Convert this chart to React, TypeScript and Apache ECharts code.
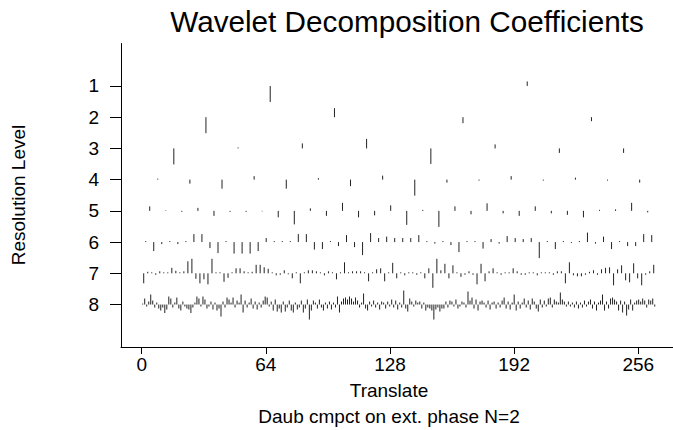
import React, { useEffect, useRef } from "react";
import * as echarts from "echarts";

// Resolution levels and tick labels
const LEVELS = [1, 2, 3, 4, 5, 6, 7, 8];
const X_TICKS = [0, 64, 128, 192, 256];
const TRANSLATE_SPAN = 265;
const COEF_SCALE = 1 / 31.2;

// Wavelet coefficients per level (global scaling)
const level1 = [-16, 4.5];
const level2 = [-16, 9, -6, -4];
const level3 = [-16, 1, 5, 9.5, -15.5, 4, -4.5, -4.5];
const level4 = [1, -4, -9, 3.5, -9, 1.5, -6.5, 4, -16, -3, -1, 3.5, -1, 2, -1, -3];
const level5 = [
  4.5, 0.5, -1, 3, -5, -1, -1, -0.5, -6.5, -13.5, 2.5, -5, 8, -6.5, -4.5, 5.5,
  -14, 1, -16, 4.5, -3.5, 7.5, -2.5, -5, 4.5, -2.5, -4, -6.5, 1, 1.5, 8, -1.5,
];
const level6 = [
  1, -9, -2, 1, -2, 1, 8, 8, -6, -11, 1, -11.5, -11.5, -11.5, -9, 4,
  1, 1, 1, 8, 8, -7.5, -7, 1, -4, 7, -5, -13, 9, 4, 5.5, 4,
  4, 4, 7, 1, -1.5, 1, -3, -10, 1, 1, -6.5, 3, -1.5, 6, 4, 3,
  4, -16, 1, -7, 1, -1, 1, 9.5, -1.5, 5.5, -7, 1, -4, -4, 8, 7,
];
const level7 = [
  -10, 1.5, 1, -1.5, 2, 1, 1, 5.5, 2.5, 1, 2, 12, 14.5, -5.5, -10, -6,
  -11, 14.5, 1, 1, -8.5, -4.5, 1, 5, 5, 2, 1, 1.5, 8.5, 8.5, 6, 4.5,
  1, -2, -1.5, 3, -1, -5, 1, -10, 1, 3, 3, 2, 1, -2, 2, 1,
  -6, 1, 11, 1, 2, 2, 2, 1, -8, 1, 4, 5, -8, 1, 10.5, -5,
  1, -2, 1, 1, -1.5, 1, -5, 5, -14.5, 14.5, 3, 9.5, -5, 8, 1, -3.5,
  -1.5, 2, -1.5, -11, 9.5, -8, 2, 5, 1, -1.5, 1, 1, 5, 2, -1.5, -1.5,
  1, 1, -2, 1, 1, 1, -1.5, 2, 2, -10, 11, -2, -3, -3, -1.5, 1.5,
  3, -1.5, 4, 5.5, 6, -12, 4, 8, -7, -9, 10, -5, -12, -1.5, 2, 8.5,
];
const level8 = [
  1, 6, -2, 3, 10, 4, -3, 2, -4, -6, -3, -8.5, -5, 8, 6, -3,
  2, 7, -4, -6, 3, -2, -4, -5, -8.5, -3, 2, 8, 6, -2, 8, 5,
  -4, -2, 3, -5, 2, -6, -4, -12, 3, -3, 7, 5, 2, 7, -3, 4,
  2, 10, -8, 4, -3, 2, 6, -4, 3, -5, 2, -3, 4, 8, 7, -2,
  3, -6, 5, -7, -4, -8, 3, -7, -3, 4, -6, -8, 2, -5, -3, 4,
  -8, -4, 5, -15, -6, 4, 2, -4, 5, -3, -6, 2, -4, 3, -5, 2,
  -3, 8, -8, 3, 6, 7, 5, 8, 6, 3, 7, 4, -3, 2, 11, -4,
  -6, 3, -2, 4, -3, 2, -5, 3, 2, -4, 3, -2, 5, -3, 4, -5,
  2, -3, 14, -4, -7, 6, 3, -2, 4, 2, 3, -4, 2, -6, -3, -4,
  -6, -15, -5, -3, -7, -4, -4, 3, -3, 4, 3, -2, 5, -4, -2, 3,
  2, -3, 13, 4, 7, -4, 5, -6, 3, 4, 2, -3, 4, -5, 2, 3,
  -4, 2, -3, 4, 7, -4, 3, -5, 2, 10, -6, 3, -4, 2, 6, -3,
  4, -5, 6, 3, -4, -7, 5, -3, 4, -2, 6, 7, -3, 5, 3, 2,
  12, 5, 3, -2, 3, -2, 2, -3, 3, -4, 2, -3, 4, -2, 3, 5,
  -4, 3, -6, 2, 4, 10, -6, 3, -4, 6, 7, 5, 3, -6, 4, -8,
  3, -11, -5, 5, -6, 2, 4, 5, 3, 6, 4, -3, 5, 4, 6, -2,
];
const COEFFS = [level1, level2, level3, level4, level5, level6, level7, level8];

const FONT = "'Liberation Sans', Arial, Helvetica, sans-serif";

export default function App() {
  const ref = useRef<HTMLDivElement>(null);

  useEffect(() => {
    if (!ref.current) return;
    const chart = echarts.init(ref.current, undefined, { renderer: "svg" });

    const data: number[][] = [];
    COEFFS.forEach((vals, li) => {
      const m = vals.length;
      vals.forEach((v, i) => {
        data.push([((i + 0.5) * TRANSLATE_SPAN) / m, LEVELS[li], v]);
      });
    });

    chart.setOption({
      animation: false,
      backgroundColor: "#fff",
      grid: { left: 121, right: 0, top: 43.5, bottom: 83, containLabel: false },
      xAxis: {
        type: "value",
        min: -10.67,
        max: 273.9,
        axisLine: { show: true, onZero: false, lineStyle: { color: "#000", width: 1 } },
        axisTick: { show: true, length: 7, customValues: X_TICKS, lineStyle: { color: "#000" } },
        axisLabel: {
          customValues: X_TICKS,
          color: "#000",
          fontSize: 19,
          fontFamily: FONT,
          margin: 8,
        },
        splitLine: { show: false },
      },
      yAxis: {
        type: "value",
        inverse: true,
        min: -0.36,
        max: 9.36,
        axisLine: { show: true, onZero: false, lineStyle: { color: "#000", width: 1 } },
        axisTick: { show: true, length: 11, customValues: LEVELS, lineStyle: { color: "#000" } },
        axisLabel: {
          customValues: LEVELS,
          color: "#000",
          fontSize: 19,
          fontFamily: FONT,
          margin: 22,
        },
        splitLine: { show: false },
      },
      series: [
        {
          type: "custom",
          data,
          renderItem: (params: any, api: any) => {
            const x = api.value(0);
            const lvl = api.value(1);
            const v = api.value(2);
            const p0 = api.coord([x, lvl]);
            const p1 = api.coord([x, lvl - v * COEF_SCALE]);
            return {
              type: "line",
              shape: { x1: p0[0], y1: p0[1], x2: p1[0], y2: p1[1] },
              style: { stroke: "#222", lineWidth: 1 },
            };
          },
        },
      ],
      graphic: [
        {
          type: "text",
          x: 407,
          y: 21,
          style: {
            text: "Wavelet Decomposition Coefficients",
            font: `29.7px ${FONT}`,
            fill: "#000",
            textAlign: "center",
            textVerticalAlign: "middle",
          },
        },
        {
          type: "text",
          x: 389,
          y: 390,
          style: {
            text: "Translate",
            font: `19px ${FONT}`,
            fill: "#000",
            textAlign: "center",
            textVerticalAlign: "middle",
          },
        },
        {
          type: "text",
          x: 389,
          y: 416,
          style: {
            text: "Daub cmpct on ext. phase N=2",
            font: `19px ${FONT}`,
            fill: "#000",
            textAlign: "center",
            textVerticalAlign: "middle",
          },
        },
        {
          type: "text",
          x: 18,
          y: 195,
          rotation: Math.PI / 2,
          style: {
            text: "Resolution Level",
            font: `19px ${FONT}`,
            fill: "#000",
            textAlign: "center",
            textVerticalAlign: "middle",
          },
        },
      ],
    });

    return () => chart.dispose();
  }, []);

  return (
    <div
      ref={ref}
      style={{ position: "fixed", left: 0, top: 0, width: 673, height: 430 }}
    />
  );
}
